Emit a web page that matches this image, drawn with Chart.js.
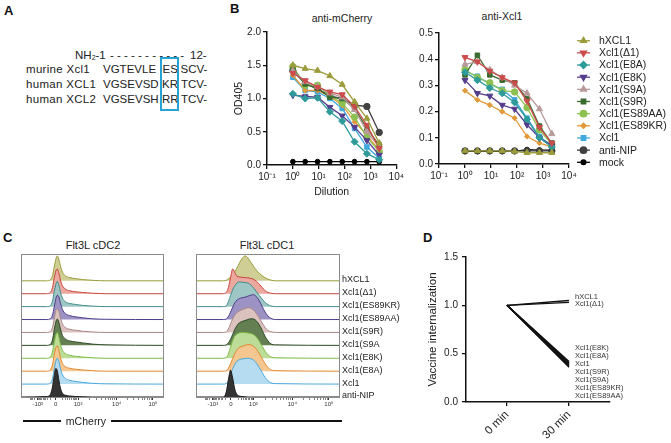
<!DOCTYPE html>
<html>
<head>
<meta charset="utf-8">
<script src="https://cdn.jsdelivr.net/npm/chart.js@4.4.1/dist/chart.umd.min.js"></script>
<style>
  body { margin: 0; background: #fff; }
  #fig { position: relative; width: 671px; height: 443px; overflow: hidden;
         font-family: "Liberation Sans", Arial, sans-serif; color: #222; }
  #fig canvas { position: absolute; }
  .t { position: absolute; white-space: nowrap; line-height: 1; }
  .lab { font-weight: bold; font-size: 13px; color: #111; }
  .seq { font-size: 11.5px; }
  .name { letter-spacing: 0.3px; }
  .hl { position: absolute; height: 1.5px; background: #111; }
</style>
</head>
<body>
<div id="fig">
  <!-- A: sequence alignment -->
  <div class="t lab" style="left:4px;top:4px">A</div>
  <div class="t seq" style="left:75px;top:50px">NH<span style="font-size:7px;vertical-align:-1px">2</span>-1</div>
  <div class="t seq" style="left:110px;top:50px">- - - - - - - - - - -</div>
  <div class="t seq" style="left:190px;top:50px">12-</div>
  <div class="t seq name" style="left:26px;top:64px">murine Xcl1</div>
  <div class="t seq" style="left:103px;top:64px">VGTEVLE</div>
  <div class="t seq" style="left:162.5px;top:64px">ES</div>
  <div class="t seq" style="left:180.5px;top:64px">SCV-</div>
  <div class="t seq name" style="left:26px;top:79px">human XCL1</div>
  <div class="t seq" style="left:103px;top:79px">VGSEVSD</div>
  <div class="t seq" style="left:162px;top:79px">KR</div>
  <div class="t seq" style="left:181px;top:79px">TCV-</div>
  <div class="t seq name" style="left:26px;top:94px">human XCL2</div>
  <div class="t seq" style="left:103px;top:94px">VGSEVSH</div>
  <div class="t seq" style="left:162px;top:94px">RR</div>
  <div class="t seq" style="left:181px;top:94px">TCV-</div>
  <div style="position:absolute;left:160px;top:57px;width:19px;height:54px;border:2px solid #27a2d4;box-sizing:border-box"></div>

  <!-- B -->
  <div class="t lab" style="left:230px;top:2px">B</div>
  <div class="t" style="left:342px;top:13px;font-size:10.5px;transform:translateX(-50%)">anti-mCherry</div>
  <div class="t" style="left:502px;top:11px;font-size:10.5px;transform:translateX(-50%)">anti-Xcl1</div>
  <canvas id="bLeft" width="178" height="200" style="left:228px;top:0px"></canvas>
  <canvas id="bRight" width="271" height="200" style="left:400px;top:0px"></canvas>

  <!-- C -->
  <div class="t lab" style="left:3px;top:231px">C</div>
  <div class="t" style="left:93px;top:240px;font-size:11px;transform:translateX(-50%)">Flt3L cDC2</div>
  <div class="t" style="left:267px;top:240px;font-size:11px;transform:translateX(-50%)">Flt3L cDC1</div>
  <canvas id="cLeft" width="175" height="190" style="left:0px;top:230px"></canvas>
  <canvas id="cRight" width="240" height="190" style="left:180px;top:230px"></canvas>
  <div class="hl" style="left:23px;top:420px;width:38px"></div>
  <div class="t" style="left:86px;top:415.5px;font-size:10.5px;transform:translateX(-50%)">mCherry</div>
  <div class="hl" style="left:111px;top:420px;width:231px"></div>

  <!-- D -->
  <div class="t lab" style="left:423px;top:231px">D</div>
  <canvas id="dChart" width="251" height="203" style="left:420px;top:240px"></canvas>
</div>

<script>
// ---------- B: ELISA ----------
const dilutions = [1, 3, 9, 27, 81, 243, 729, 2187];
const decadeTicks = [0.1, 1, 10, 100, 1000, 10000];
const decadeLabels = ['10⁻¹', '10⁰', '10¹', '10²', '10³', '10⁴'];
const elisaSamples = ['hXCL1', 'Xcl1(Δ1)', 'Xcl1(E8A)', 'Xcl1(E8K)', 'Xcl1(S9A)', 'Xcl1(S9R)',
                      'Xcl1(ES89AA)', 'Xcl1(ES89KR)', 'Xcl1', 'anti-NIP', 'mock'];

// anti-mCherry OD405
const mchHxcl1  = [1.50, 1.45, 1.42, 1.34, 1.21, 0.95, 0.70, 0.33];
const mchDelta1 = [1.38, 1.27, 1.17, 1.10, 1.06, 0.88, 0.60, 0.25];
const mchE8a    = [1.07, 1.00, 1.01, 0.80, 0.66, 0.35, 0.17, 0.08];
const mchE8k    = [1.05, 1.03, 1.02, 0.87, 0.74, 0.57, 0.37, 0.15];
const mchS9a    = [1.42, 1.25, 1.18, 1.08, 1.02, 0.83, 0.50, 0.27];
const mchS9r    = [1.45, 1.22, 1.15, 1.02, 1.00, 0.85, 0.55, 0.30];
const mchEs89aa = [1.48, 1.20, 1.20, 1.05, 0.93, 0.72, 0.42, 0.20];
const mchEs89kr = [1.35, 1.12, 1.12, 1.03, 0.90, 0.65, 0.45, 0.22];
const mchXcl1   = [1.32, 1.12, 1.10, 1.00, 0.85, 0.55, 0.27, 0.10];
const mchAntiNip= [1.42, 1.22, 1.15, 1.04, 1.00, 0.90, 0.88, 0.49];
const mchMock   = [0.05, 0.05, 0.05, 0.05, 0.05, 0.05, 0.05, 0.05];

// anti-Xcl1 OD405
const xclHxcl1  = [0.050, 0.050, 0.050, 0.050, 0.048, 0.043, 0.043, 0.043];
const xclDelta1 = [0.407, 0.390, 0.355, 0.330, 0.310, 0.240, 0.140, 0.080];
const xclE8a    = [0.350, 0.320, 0.290, 0.270, 0.235, 0.170, 0.100, 0.065];
const xclE8k    = [0.320, 0.270, 0.260, 0.225, 0.210, 0.150, 0.100, 0.070];
const xclS9a    = [0.380, 0.390, 0.360, 0.330, 0.300, 0.270, 0.210, 0.115];
const xclS9r    = [0.340, 0.415, 0.340, 0.320, 0.310, 0.250, 0.145, 0.080];
const xclEs89aa = [0.360, 0.330, 0.310, 0.280, 0.275, 0.215, 0.130, 0.075];
const xclEs89kr = [0.280, 0.245, 0.225, 0.200, 0.175, 0.105, 0.080, 0.065];
const xclXcl1   = [0.355, 0.335, 0.305, 0.285, 0.245, 0.175, 0.105, 0.070];
const xclAntiNip= [0.050, 0.050, 0.050, 0.050, 0.050, 0.050, 0.050, 0.050];
const xclMock   = [0.048, 0.048, 0.048, 0.048, 0.048, 0.055, 0.053, 0.053];

// ---------- C: flow histograms (normalized to mode, top track first) ----------
const trackNames = ['hXCL1', 'Xcl1(Δ1)', 'Xcl1(ES89KR)', 'Xcl1(ES89AA)', 'Xcl1(S9R)', 'Xcl1(S9A',
                    'Xcl1(E8K)', 'Xcl1(E8A)', 'Xcl1', 'anti-NIP'];
const flowTickVals = [117, 243, 399, 669, 923];
const flowTickLabels = ['-10³', '0', '10³', '10⁴', '10⁵'];

const cdc2Bins = [0, 180, 205, 220, 232, 244, 254, 264, 276, 290, 310, 340, 380, 430, 500, 600, 1000];
const c2Hxcl1   = [0, 0, 4, 20, 55, 88, 100, 88, 60, 35, 20, 13, 9, 5, 2, 0, 0];
const c2Delta1  = [0, 0, 5, 25, 62, 92, 100, 85, 55, 32, 19, 12, 8, 5, 2, 0, 0];
const c2Es89kr  = [0, 0, 4, 22, 58, 90, 102, 88, 58, 34, 20, 13, 9, 5, 2, 0, 0];
const c2Es89aa  = [0, 0, 3, 18, 50, 85, 98, 92, 66, 40, 24, 16, 11, 7, 3, 1, 0];
const c2S9r     = [0, 0, 4, 20, 55, 88, 96, 86, 58, 34, 20, 13, 9, 5, 2, 0, 0];
const c2S9a     = [0, 0, 4, 22, 60, 95, 106, 94, 66, 40, 26, 18, 14, 10, 5, 2, 0];
const c2E8k     = [0, 0, 5, 25, 62, 94, 104, 88, 56, 32, 19, 12, 8, 5, 2, 0, 0];
const c2E8a     = [0, 0, 5, 26, 64, 95, 102, 86, 55, 31, 18, 12, 8, 5, 2, 0, 0];
const c2Xcl1    = [0, 0, 4, 22, 58, 92, 104, 92, 62, 38, 23, 15, 11, 7, 3, 1, 0];
const c2AntiNip = [0, 2, 10, 40, 85, 115, 105, 70, 35, 15, 7, 4, 2, 1, 0, 0, 0];

const cdc1Bins = [0, 190, 210, 225, 240, 255, 270, 285, 300, 320, 340, 360, 380, 400, 420, 440, 460, 480, 500, 520, 550, 1000];
const c1Hxcl1   = [0, 0, 2, 8, 15, 25, 38, 52, 70, 90, 100, 92, 75, 58, 42, 30, 20, 12, 6, 3, 0, 0];
const c1Delta1  = [0, 0, 5, 25, 65, 100, 85, 70, 68, 66, 65, 64, 62, 58, 50, 38, 25, 12, 5, 2, 0, 0];
const c1Es89kr  = [0, 0, 3, 20, 45, 68, 85, 95, 100, 98, 97, 95, 88, 75, 60, 45, 30, 17, 8, 3, 0, 0];
const c1Es89aa  = [0, 0, 2, 12, 30, 50, 68, 78, 84, 88, 90, 94, 98, 100, 92, 75, 52, 30, 14, 5, 0, 0];
const c1S9r     = [0, 0, 2, 14, 35, 55, 70, 80, 86, 92, 96, 100, 98, 90, 76, 58, 38, 20, 8, 3, 0, 0];
const c1S9a     = [0, 0, 2, 10, 25, 45, 65, 80, 90, 96, 100, 104, 107, 106, 98, 82, 60, 36, 18, 6, 2, 0];
const c1E8k     = [0, 0, 3, 18, 45, 72, 90, 98, 102, 104, 103, 102, 100, 95, 85, 68, 48, 28, 14, 5, 2, 0];
const c1E8a     = [0, 0, 2, 12, 30, 52, 72, 86, 95, 100, 104, 107, 106, 100, 88, 70, 50, 30, 15, 5, 2, 0];
const c1Xcl1    = [0, 0, 2, 14, 38, 62, 80, 92, 98, 101, 103, 104, 102, 96, 84, 66, 46, 27, 13, 5, 2, 0];
const c1AntiNip = [0, 0, 20, 70, 108, 75, 30, 10, 4, 2, 1, 0, 0, 0, 0, 0, 0, 0, 0, 0, 0, 0];

// ---------- D: internalization ----------
const dTimes = [0, 30];
const dSamples = ['hXCL1', 'Xcl1(Δ1)', 'Xcl1(E8K)', 'Xcl1(E8A)', 'Xcl1', 'Xcl1(S9R)', 'Xcl1(S9A)',
                  'Xcl1(ES89KR)', 'Xcl1(ES89AA)'];
const internal0  = [1.0, 1.0, 1.0, 1.0, 1.0, 1.0, 1.0, 1.0, 1.0];
const internal30 = [1.05, 1.03, 0.42, 0.41, 0.40, 0.39, 0.38, 0.37, 0.36];

// ---------- styles ----------
const FONT = '"Liberation Sans", Arial, sans-serif';
Chart.defaults.font.family = FONT;
Chart.defaults.color = '#222';
Chart.defaults.animation = false;

const elisaColors = ['#9c9c3c', '#cc4b4b', '#2e9a9a', '#553d8c', '#b99a9a', '#3a6b30',
                     '#8cc050', '#e39a3c', '#3fa9e0', '#404040', '#000000'];
const elisaStyles = ['triangle', 'triangle', 'rectRot', 'triangle', 'triangle', 'rect',
                     'circle', 'rectRot', 'rect', 'circle', 'circle'];
const elisaRot = [0, 180, 0, 180, 0, 0, 0, 0, 0, 0, 0];
const elisaRadius = [3.5, 3.5, 3.5, 3.5, 3.5, 3.2, 3.2, 2.6, 3.2, 3.2, 2.4];

const trackLine = ['#9a9a3a', '#c8443e', '#3f8d8d', '#4e3d8a', '#a88686', '#2c4a26',
                   '#7dbd42', '#e0892e', '#4aa8dc', '#1a1a1a'];
const trackFill = ['#cfcf95', '#eaa89e', '#9ec6c4', '#9d92c4', '#dbc2bf', '#647f52',
                   '#bcdc98', '#f3c78f', '#b6dcf1', '#333333'];
const trackGap = 52;

const axisGrid = { drawOnChartArea: false, drawTicks: true, tickLength: 4, color: '#111', lineWidth: 1.3 };
const axisBorder = { color: '#111', width: 1.5 };

function elisaChart(id, series, yMax, pad, withLegend, yTitle) {
  const datasets = elisaSamples.map((name, i) => ({
    label: name,
    data: dilutions.map((d, j) => ({ x: d, y: series[i][j] })),
    borderColor: elisaColors[i],
    backgroundColor: elisaColors[i],
    pointStyle: elisaStyles[i],
    rotation: elisaRot[i],
    pointRadius: elisaRadius[i],
    pointBorderWidth: 1,
    borderWidth: 1.3,
    tension: 0
  }));

  const legendPlugin = {
    id: 'sideLegend',
    afterDraw(chart) {
      if (!withLegend) return;
      const ctx = chart.ctx;
      const area = chart.chartArea;
      const drawPoint = Chart.helpers && Chart.helpers.drawPoint;
      ctx.save();
      ctx.font = '10.5px ' + FONT;
      ctx.textBaseline = 'middle';
      chart.data.datasets.forEach((ds, i) => {
        const y = area.top + 7.7 + i * 12.16;
        const x0 = area.right + 8, x1 = area.right + 21;
        ctx.strokeStyle = ds.borderColor;
        ctx.fillStyle = ds.borderColor;
        ctx.lineWidth = 1.3;
        ctx.beginPath(); ctx.moveTo(x0, y); ctx.lineTo(x1, y); ctx.stroke();
        if (drawPoint) {
          drawPoint(ctx, { pointStyle: ds.pointStyle, rotation: ds.rotation,
                           radius: ds.pointRadius, borderWidth: 1 }, (x0 + x1) / 2, y);
        }
        ctx.fillStyle = '#222';
        ctx.fillText(ds.label, area.right + 30, y + 0.5);
      });
      ctx.restore();
    }
  };

  return new Chart(document.getElementById(id), {
    type: 'line',
    data: { datasets },
    options: {
      responsive: false,
      animation: false,
      layout: { padding: pad },
      plugins: { legend: { display: false }, tooltip: { enabled: false } },
      scales: {
        x: {
          type: 'logarithmic', min: 0.1, max: 10000,
          afterBuildTicks: s => { s.ticks = decadeTicks.map(v => ({ value: v })); },
          afterFit: s => { s.height = pad.xh; },
          ticks: { callback: (v, i) => decadeLabels[i], font: { size: 10 }, padding: 2,
                   autoSkip: false, maxRotation: 0, color: '#222' },
          grid: axisGrid, border: axisBorder,
          title: { display: !!yTitle, text: 'Dilution', font: { size: 10.5 }, color: '#222',
                   padding: { top: 0, bottom: 2 } }
        },
        y: {
          min: 0, max: yMax,
          afterFit: s => { s.width = 39; },
          ticks: { stepSize: yMax / 5 >= 0.4 ? 0.5 : 0.1, callback: v => v.toFixed(1),
                   font: { size: 10 }, padding: 2, color: '#222' },
          grid: axisGrid, border: axisBorder,
          title: { display: !!yTitle, text: yTitle || '', font: { size: 10.5 }, color: '#222',
                   padding: { top: 5, bottom: 0 } }
        }
      }
    },
    plugins: [legendPlugin]
  });
}

elisaChart('bLeft',
  [mchHxcl1, mchDelta1, mchE8a, mchE8k, mchS9a, mchS9r, mchEs89aa, mchEs89kr, mchXcl1, mchAntiNip, mchMock],
  2, { left: 0, right: 8, top: 32, bottom: 0, xh: 35 }, false, 'OD405');

elisaChart('bRight',
  [xclHxcl1, xclDelta1, xclE8a, xclE8k, xclS9a, xclS9r, xclEs89aa, xclEs89kr, xclXcl1, xclAntiNip, xclMock],
  0.5, { left: 0, right: 102, top: 33, bottom: 0, xh: 36 }, true, null);

// ---------- C ----------
function flowTicks() {
  const t = flowTickVals.map(v => ({ value: v, big: true }));
  const [pNeg, p0, p3, p4, p5] = flowTickVals;
  for (let k = 2; k <= 9; k++) {
    const f = Math.log10(k);
    t.push({ value: p3 + (p4 - p3) * f }, { value: p4 + (p5 - p4) * f });
  }
  for (let k = 1; k <= 9; k++) {
    const f = Math.sqrt(k / 10);
    t.push({ value: p0 + (p3 - p0) * f }, { value: p0 - (p0 - pNeg) * f });
  }
  for (let k = 2; k <= 5; k++) t.push({ value: pNeg - (p0 - pNeg) * Math.log10(k) * 0.6 });
  return t.sort((a, b) => a.value - b.value);
}

const framePlugin = {
  id: 'frame',
  afterDraw(chart) {
    const { ctx, chartArea: a } = chart;
    ctx.save();
    ctx.strokeStyle = '#8a8a8a';
    ctx.lineWidth = 1;
    ctx.strokeRect(a.left + 0.5, a.top + 0.5, a.right - a.left - 1, a.bottom - a.top);
    ctx.restore();
  }
};

function ridgeChart(id, bins, seriesTopFirst, padRight, withLabels) {
  const n = seriesTopFirst.length;
  const datasets = [];
  // bottom track first so it is drawn in front
  for (let k = 0; k < n; k++) {
    const idx = n - 1 - k;
    const base = k * trackGap;
    datasets.push({
      label: trackNames[idx],
      data: bins.map((x, j) => ({ x, y: base + seriesTopFirst[idx][j] })),
      borderColor: trackLine[idx],
      backgroundColor: trackFill[idx],
      fill: { value: base },
      borderWidth: 1,
      pointRadius: 0,
      cubicInterpolationMode: 'monotone'
    });
  }

  const labelPlugin = {
    id: 'trackLabels',
    afterDraw(chart) {
      if (!withLabels) return;
      const { ctx, chartArea: a, scales } = chart;
      ctx.save();
      ctx.font = '9px ' + FONT;
      ctx.fillStyle = '#222';
      ctx.textBaseline = 'middle';
      for (let k = 0; k < n; k++) {
        const y = scales.y.getPixelForValue(k * trackGap);
        ctx.fillText(trackNames[n - 1 - k], a.right + 2, y - 1);
      }
      ctx.restore();
    }
  };

  return new Chart(document.getElementById(id), {
    type: 'line',
    data: { datasets },
    options: {
      responsive: false,
      animation: false,
      layout: { padding: { left: id === 'cLeft' ? 21 : 16, right: padRight, top: 24, bottom: 0 } },
      plugins: { legend: { display: false }, tooltip: { enabled: false } },
      scales: {
        x: {
          type: 'linear', min: 0, max: 1000,
          afterBuildTicks: s => { s.ticks = flowTicks(); },
          afterFit: s => { s.height = 23; },
          ticks: {
            autoSkip: false, maxRotation: 0, padding: 1, font: { size: 6 }, color: '#333',
            callback: (v, i, ticks) => ticks[i].big ? flowTickLabels[flowTickVals.indexOf(v)] : ''
          },
          grid: { drawOnChartArea: false, drawTicks: true, tickLength: 3, color: '#333',
                  lineWidth: c => (c.tick && c.tick.big ? 1 : 0.6) },
          border: { display: false }
        },
        y: { display: false, min: 0, max: 576 }
      }
    },
    plugins: [framePlugin, labelPlugin]
  });
}

ridgeChart('cLeft', cdc2Bins,
  [c2Hxcl1, c2Delta1, c2Es89kr, c2Es89aa, c2S9r, c2S9a, c2E8k, c2E8a, c2Xcl1, c2AntiNip], 11, false);
ridgeChart('cRight', cdc1Bins,
  [c1Hxcl1, c1Delta1, c1Es89kr, c1Es89aa, c1S9r, c1S9a, c1E8k, c1E8a, c1Xcl1, c1AntiNip], 80, true);

// ---------- D ----------
const dLabelPlugin = {
  id: 'endLabels',
  afterDraw(chart) {
    const { ctx, scales } = chart;
    const x = scales.x.getPixelForValue(dTimes[1]) + 6;
    ctx.save();
    ctx.font = '7.5px ' + FONT;
    ctx.fillStyle = '#333';
    ctx.textBaseline = 'middle';
    const top = dSamples.filter((s, i) => internal30[i] > 0.7);
    const low = dSamples.filter((s, i) => internal30[i] <= 0.7);
    const topY = scales.y.getPixelForValue(Math.max(...internal30)) - 4;
    const lowY = scales.y.getPixelForValue(Math.max(...internal30.filter(v => v <= 0.7))) - 13;
    top.forEach((s, i) => ctx.fillText(s, x, topY + i * 7.5));
    low.forEach((s, i) => ctx.fillText(s, x, lowY + i * 8));
    ctx.restore();
  }
};

new Chart(document.getElementById('dChart'), {
  type: 'line',
  data: {
    datasets: dSamples.map((name, i) => ({
      label: name,
      data: [{ x: dTimes[0], y: internal0[i] }, { x: dTimes[1], y: internal30[i] }],
      borderColor: '#111',
      borderWidth: 1.3,
      pointRadius: 0,
      tension: 0
    }))
  },
  options: {
    responsive: false,
    animation: false,
    layout: { padding: { left: 0, right: 61, top: 17, bottom: 0 } },
    plugins: { legend: { display: false }, tooltip: { enabled: false } },
    scales: {
      x: {
        type: 'linear', min: -19.8, max: 49.8,
        afterBuildTicks: s => { s.ticks = dTimes.map(v => ({ value: v })); },
        afterFit: s => { s.height = 41; },
        ticks: { callback: v => v + ' min', minRotation: 45, maxRotation: 45, autoSkip: false,
                 font: { size: 11.5 }, padding: 2, color: '#222' },
        grid: axisGrid, border: axisBorder
      },
      y: {
        min: 0, max: 1.5,
        afterFit: s => { s.width = 46; },
        ticks: { stepSize: 0.5, callback: v => v.toFixed(1), font: { size: 10 }, padding: 4, color: '#222' },
        grid: axisGrid, border: axisBorder,
        title: { display: true, text: 'Vaccine internalization', font: { size: 11.5 }, color: '#222',
                 padding: { top: 6, bottom: 0 } }
      }
    }
  },
  plugins: [dLabelPlugin]
});
</script>
</body>
</html>
